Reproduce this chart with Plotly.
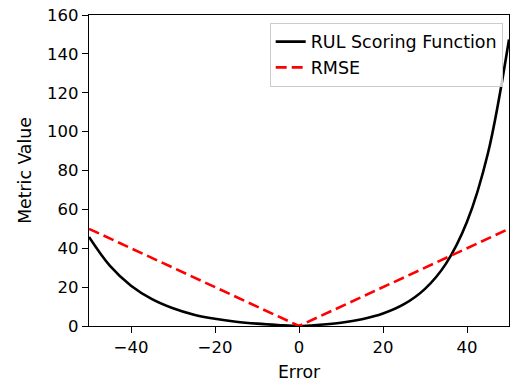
import plotly.graph_objects as go

error = [-50, -45, -40, -35, -30, -25, -20, -15, -10, -5, 0, 5, 10, 15, 20, 25, 30, 35, 40, 45, 50]
rul_score = [45.8, 30.9, 20.7, 13.8, 9.1, 5.8, 3.7, 2.2, 1.2, 0.5, 0.0, 0.65, 1.7, 3.5, 6.4, 11.2, 19.1, 32.1, 53.6, 89.0, 147.4]
rmse_x = [-50, 0, 50]
rmse_y = [50, 0, 50]

FONT = "DejaVu Sans"
FS = 16.5

fig = go.Figure()
fig.add_trace(go.Scatter(x=error, y=rul_score, mode="lines", name="RUL Scoring Function",
                         line=dict(color="black", width=2.6, shape="spline", smoothing=1.0)))
fig.add_trace(go.Scatter(x=rmse_x, y=rmse_y, mode="lines", name="RMSE",
                         line=dict(color="red", width=2.6, dash="11px,5px")))

axis_common = dict(showline=True, linecolor="black", linewidth=1.3, mirror=True,
                   ticks="outside", ticklen=6, tickwidth=1.3, tickcolor="black",
                   showgrid=False, zeroline=False,
                   tickfont=dict(family=FONT, size=FS, color="black"))

fig.update_layout(
    width=510, height=382,
    margin=dict(l=89, r=1, t=15, b=56),
    paper_bgcolor="white", plot_bgcolor="white",
    font=dict(family=FONT, size=FS, color="black"),
    xaxis=dict(range=[-50, 50], tickvals=[-40, -20, 0, 20, 40],
               title=dict(text="Error", font=dict(family=FONT, size=17.3), standoff=12),
               **axis_common),
    yaxis=dict(range=[0, 160], tickvals=[0, 20, 40, 60, 80, 100, 120, 140, 160],
               title=dict(text="Metric Value", font=dict(family=FONT, size=17.3), standoff=10),
               **axis_common),
    legend=dict(x=0.985, y=0.975, xanchor="right", yanchor="top",
                bgcolor="rgba(255,255,255,0.8)", bordercolor="#cccccc", borderwidth=1,
                font=dict(family=FONT, size=17.5), tracegroupgap=0, itemwidth=30),
    showlegend=True,
)

fig.write_html("out.html")
